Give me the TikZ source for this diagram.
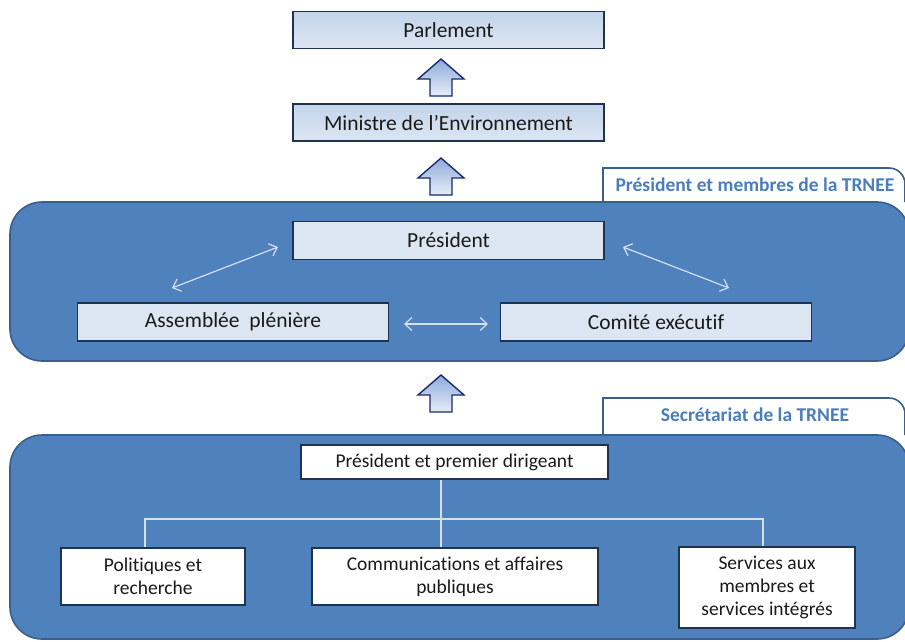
\documentclass[tikz,border=0pt]{standalone}
\usepackage{fontspec}
\setmainfont{Carlito}[Ligatures={NoCommon,NoRare,NoContextual}]
\usetikzlibrary{arrows.meta}
\definecolor{cont}{HTML}{4F81BD}
\definecolor{contborder}{HTML}{3A5F8C}
\definecolor{boxborder}{HTML}{1F3350}
\definecolor{tabtext}{HTML}{4A7EBB}
\definecolor{lightbox}{HTML}{DCE6F2}
\definecolor{lighttop}{HTML}{C3D4EA}
\definecolor{linecol}{HTML}{D3E0F0}
\definecolor{arrtop}{HTML}{8EAADB}
\definecolor{arrbot}{HTML}{E6EDF7}
\definecolor{txt}{HTML}{1A1A1A}
\newcommand\blockup[2]{%
  \draw[blockarrow] (#1,#2) -- (#1+23,#2+20) -- (#1+11,#2+20) -- (#1+11,#2+37)
    -- (#1-11,#2+37) -- (#1-11,#2+20) -- (#1-23,#2+20) -- cycle;}
\begin{document}
\begin{tikzpicture}[x=1pt,y=-1pt,
  topbox/.style={draw=boxborder, line width=1.4pt, top color=lighttop, bottom color=lightbox,
    minimum width=311pt, minimum height=37pt, inner sep=0pt,
    font=\fontsize{21.5}{25}\selectfont, text=txt},
  memberbox/.style={draw=boxborder, line width=1.4pt, fill=lightbox,
    minimum height=38pt, inner sep=0pt, font=\fontsize{21.5}{25}\selectfont, text=txt},
  secbox/.style={draw=boxborder, line width=1.4pt, fill=white, inner sep=0pt, align=center,
    font=\fontsize{19.5}{23}\selectfont, text=txt},
  container/.style={fill=cont, draw=contborder, line width=1.6pt, rounded corners=32pt},
  tabshape/.style={fill=white, draw=contborder, line width=1.6pt},
  tablabel/.style={font=\fontsize{19.5}{22}\selectfont\bfseries, text=tabtext},
  blockarrow/.style={draw=boxborder!85!blue, line width=1.4pt, top color=arrtop, bottom color=arrbot, line join=miter},
  twoway/.style={draw=linecol, line width=1.2pt, {Straight Barb[length=7pt,width=13pt]}-{Straight Barb[length=7pt,width=13pt]}},
  orgline/.style={draw=linecol, line width=1.3pt}
]
\useasboundingbox (0,0) rectangle (905,641);
\fill[white] (0,0) rectangle (905,641);
\begin{scope}
\clip (0,0) rectangle (905,641);
% tabs
\draw[tabshape] (603,202) -- (603,168) -- (889,168) arc[start angle=-90, end angle=0, radius=16] -- (905,202);
\draw[tabshape] (603,435) -- (603,398) -- (889,398) arc[start angle=-90, end angle=0, radius=16] -- (905,435);
% containers
\draw[container] (10,202) rectangle (909,361);
\draw[container] (10,435) rectangle (909,639);
\end{scope}
\node[tablabel] (tab1) at (755,185) {Président et membres de la TRNEE};
\node[tablabel] (tab2) at (755,415) {Secrétariat de la TRNEE};

% top boxes
\node[topbox] (parl) at (448.5,30) {Parlement};
\node[topbox] (min) at (448.5,122.5) {Ministre de l’Environnement};
\blockup{441}{59}
\blockup{441}{158}

% members
\node[memberbox, minimum width=311pt] (pres) at (448.5,240.5) {Président};
\node[memberbox, minimum width=311pt] (assm) at (233,322) {Assemblée\ \ plénière};
\node[memberbox, minimum width=311pt] (comi) at (656,322) {Comité exécutif};
\coordinate (a1s) at (172,288); \coordinate (a1e) at (278,247);
\coordinate (a2s) at (623,247); \coordinate (a2e) at (729,288);
\coordinate (a3s) at (404,324); \coordinate (a3e) at (488,324);
\draw[twoway] (a1s) -- (a1e);
\draw[twoway] (a2s) -- (a2e);
\draw[twoway] (a3s) -- (a3e);

\blockup{441}{375}

% secretariat
\node[secbox, minimum width=307pt, minimum height=34pt] (ppd) at (454.5,462) {Président et premier dirigeant};
\node[secbox, minimum width=184pt, minimum height=57pt] (pol) at (153,576.5) {Politiques et\\recherche};
\node[secbox, minimum width=286pt, minimum height=57pt] (comm) at (455,576.5) {Communications et affaires\\publiques};
\node[secbox, minimum width=176pt, minimum height=81pt] (serv) at (767,587.5) {Services aux\\membres et\\services intégrés};
\coordinate (hub) at (441,519);
\coordinate (lft) at (145,519);
\coordinate (rgt) at (763,519);
\draw[orgline] (hub |- ppd.south) -- (hub |- comm.north);
\draw[orgline] (lft |- pol.north) -- (lft) -- (rgt) -- (rgt |- serv.north);
\end{tikzpicture}
\end{document}
